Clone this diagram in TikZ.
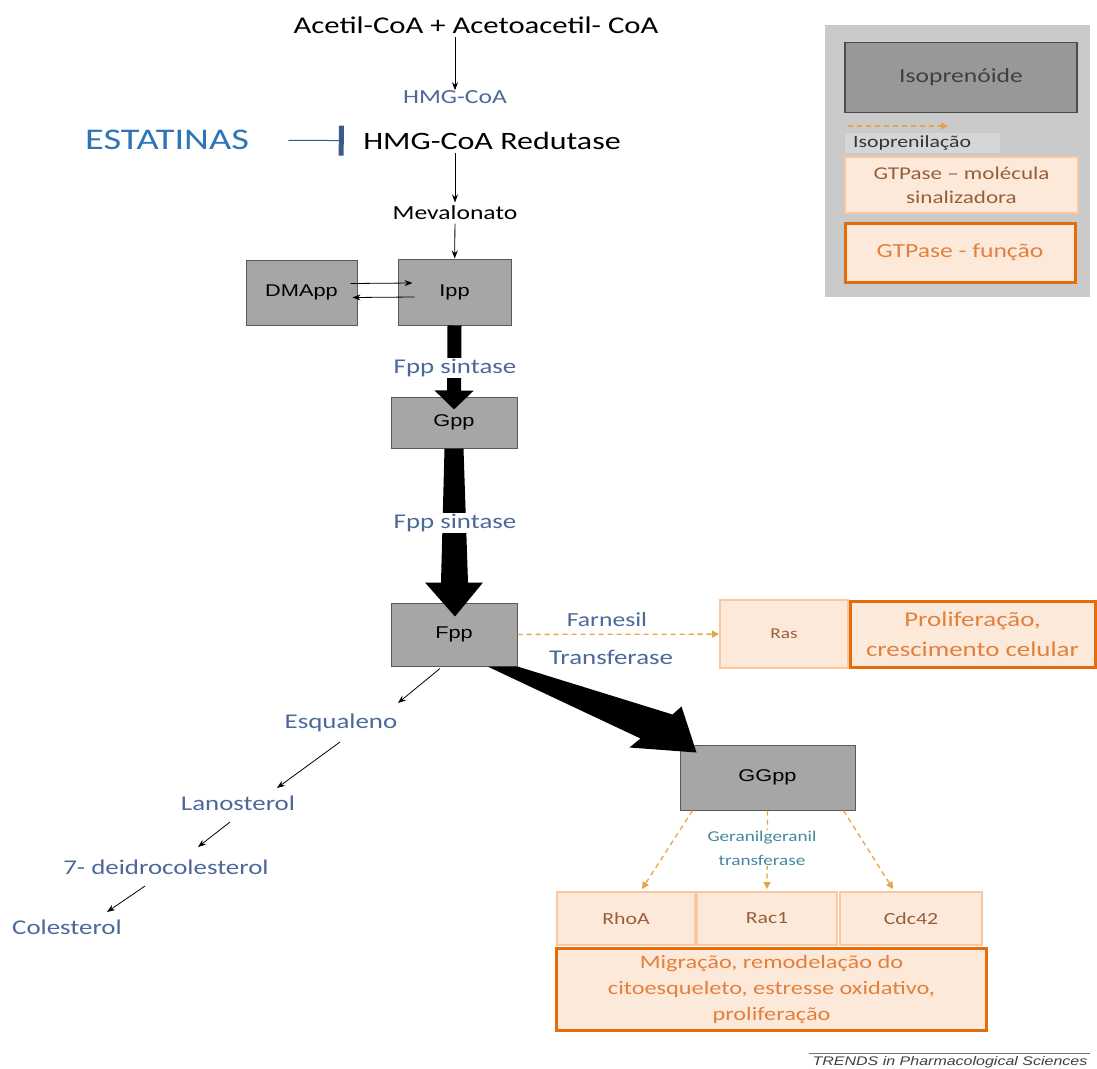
\documentclass[tikz,border=0pt]{standalone}
\usepackage{fontspec}
\setmainfont{Carlito}[FakeStretch=1.28]
\newfontfamily\arialfont{Liberation Sans}[FakeStretch=1.28]
\usetikzlibrary{arrows.meta,positioning}

\definecolor{isogray}{RGB}{166,166,166}
\definecolor{legendgray}{RGB}{202,202,202}
\definecolor{legendiso}{RGB}{152,152,152}
\definecolor{legendband}{RGB}{214,214,214}
\definecolor{pathblue}{RGB}{75,105,155}
\definecolor{statblue}{RGB}{46,117,182}
\definecolor{inhibblue}{RGB}{60,90,140}
\definecolor{gtplight}{RGB}{253,233,217}
\definecolor{gtpedge}{RGB}{250,200,160}
\definecolor{gtpdark}{RGB}{150,95,60}
\definecolor{gtporange}{RGB}{228,108,10}
\definecolor{functext}{RGB}{226,128,60}
\definecolor{dashorange}{RGB}{232,165,70}
\definecolor{ggteal}{RGB}{70,135,160}

\newcommand\txtsize[2]{\fontsize{#1}{#2}\selectfont}

\begin{document}
\begin{tikzpicture}[x=1pt, y=-1pt,
    isobox/.style={rectangle, draw=black!65, fill=isogray, line width=1pt, inner sep=0pt, font=\arialfont\txtsize{17}{20}},
    gtpbox/.style={rectangle, draw=gtpedge, fill=gtplight, line width=2pt, text=gtpdark, align=center, inner sep=0pt, font=\txtsize{17}{20}},
    funcbox/.style={gtpbox, draw=gtporange, line width=3pt, text=functext},
    metab/.style={inner sep=0pt, text=pathblue, font=\txtsize{21}{24}},
    enzyme/.style={fill=white, inner sep=1pt, text=pathblue, font=\txtsize{21}{24}},
    conv/.style={-{Stealth[length=8pt,width=6pt]}, line width=0.8pt},
    flux/.style={fill=black},
    prenyl/.style={draw=dashorange, line width=1.3pt, dash pattern=on 5pt off 4pt, -{Triangle[length=7pt,width=7pt]}}]

    \useasboundingbox[fill=white] (0,0) rectangle (1097,1068);

    \node[font=\txtsize{24}{28}] (acetil) at (476,25) {Acetil-CoA + Acetoacetil- CoA};
    \node[metab, font=\txtsize{20}{24}] (hmgcoa) at (455,97) {HMG-CoA};
    \node[font=\txtsize{25}{30}] (redutase) at (492,141) {HMG-CoA Redutase};
    \node[text=statblue, font=\txtsize{30}{36}] (estatinas) at (167,140) {ESTATINAS};
    \node[font=\txtsize{20}{24}] (mevalonato) at (455,213) {Mevalonato};

    \node[isobox, minimum width=111pt, minimum height=65pt] (dmapp) at (301.5,292.5) {DMApp};
    \node[isobox, minimum width=113pt, minimum height=66pt] (ipp) at (454.5,292) {Ipp};
    \node[isobox, minimum width=126pt, minimum height=51pt] (gpp) at (454,422.5) {Gpp};
    \node[isobox, minimum width=126pt, minimum height=63pt] (fpp) at (454,634.5) {Fpp};
    \node[isobox, minimum width=175pt, minimum height=65pt] (ggpp) at (767.5,777.5) {GGpp};

    \node[gtpbox, minimum width=128pt, minimum height=68pt, font=\txtsize{15}{18}] (ras) at (784,634) {Ras};
    \node[funcbox, minimum width=245pt, minimum height=66pt, font=\txtsize{21}{30}] (prolif) at (972.5,634) {Proliferação,\\crescimento celular};
    \node[metab, font=\txtsize{20}{24}] (farnesil) at (607,620) {Farnesil};
    \node[metab, font=\txtsize{21}{24}] (transf) at (611,657) {Transferase};

    \node[gtpbox, minimum width=138pt, minimum height=53pt] (rhoa) at (626,918.5) {RhoA};
    \node[gtpbox, minimum width=140pt, minimum height=53pt] (rac1) at (767,918.5) {Rac1};
    \node[gtpbox, minimum width=142pt, minimum height=53pt] (cdc42) at (911,918.5) {Cdc42};
    \node[funcbox, minimum width=430pt, minimum height=82pt, font=\txtsize{19}{26}] (migracao) at (771.5,989) {Migração, remodelação do\\citoesqueleto, estresse oxidativo,\\proliferação};

    \node[metab] (esq) at (341,723) {Esqualeno};
    \node[metab] (lano) at (238,803) {Lanosterol};
    \node[metab] (deidro) at (166,867) {7- deidrocolesterol};
    \node[metab] (coles) at (67,927) {Colesterol};

    \draw[conv] (acetil.south -| hmgcoa) -- (hmgcoa);
    \draw[conv] (redutase.south -| mevalonato) -- (mevalonato);
    \draw[conv] (mevalonato) -- (ipp);
    \draw[inhibblue, line width=1pt, shorten <=36pt, shorten >=16pt, -{Bar[width=30pt,line width=5pt]}] (estatinas) -- (redutase);
    \draw[conv] ([xshift=-7pt,yshift=9pt]dmapp.east) -- ([xshift=15pt,yshift=9pt]ipp.west);
    \draw[conv] ([xshift=17pt,yshift=-5pt]ipp.west) -- ([xshift=-5pt,yshift=-5pt]dmapp.east);

    \draw[black, line width=14pt, -{Triangle[length=19pt,width=38pt]}] (ipp.south) -- ([yshift=-13pt]gpp.north);
    \fill[flux] ([xshift=-9.5pt]gpp.south) -- ([shift={(-13,-20)}]fpp.north) -- ([shift={(-29,-20)}]fpp.north)
        -- ([shift={(1,14)}]fpp.north) -- ([shift={(29,-20)}]fpp.north) -- ([shift={(14,-20)}]fpp.north)
        -- ([xshift=9.5pt]gpp.south) -- cycle;
    \fill[flux] ([xshift=-30pt]fpp.south east) -- (fpp.south east) -- ([shift={(-7,-30)}]ggpp.north west)
        -- ([shift={(2,-38)}]ggpp.north west) -- ([shift={(17,8)}]ggpp.north west)
        -- ([shift={(-50,3)}]ggpp.north west) -- ([shift={(-39,-6)}]ggpp.north west) -- cycle;
    \node[enzyme] (sint1) at (455,368) {Fpp sintase};
    \node[enzyme] (sint2) at (455,523) {Fpp sintase};

    \draw[conv] ([shift={(-14,2)}]fpp.south) -- ([shift={(57,-20)}]esq.center);
    \draw[conv] ([shift={(-1,19)}]esq.center) -- ([shift={(39,-15)}]lano.center);
    \draw[conv] ([shift={(-8,19)}]lano.center) -- ([shift={(32,-20)}]deidro.center);
    \draw[conv] ([shift={(-21,19)}]deidro.center) -- ([shift={(40,-15)}]coles.center);

    \draw[prenyl] (fpp) -- (ras);
    \draw[prenyl] ([xshift=13pt]ggpp.south west) -- ([xshift=16pt,yshift=2pt]rhoa.north);
    \draw[prenyl] (ggpp.south) -- ([yshift=2pt]rac1.north);
    \draw[prenyl] ([xshift=-12pt]ggpp.south east) -- ([xshift=-18pt,yshift=2pt]cdc42.north);
    \node[fill=white, inner sep=1pt, text=ggteal, align=center, font=\txtsize{15}{24}] (ggtrans) at (762,848) {Geranilgeranil\\transferase};

    \node[fill=legendgray, minimum width=265pt, minimum height=272pt, inner sep=0pt] (legend) at (957.5,161) {};
    \node[rectangle, draw=black!70, fill=legendiso, line width=1.2pt, minimum width=232pt, minimum height=70pt, text=black!75, font=\txtsize{20}{24}] (isolegend) at (961,77.5) {Isoprenóide};
    \coordinate (lgstart) at (848,126);
    \coordinate (lgend) at (948,126);
    \draw[prenyl] (lgstart) -- (lgend);
    \node[anchor=west, fill=legendband, minimum height=20pt, inner xsep=8pt, inner ysep=0pt, text width=139pt, align=left, text=black!80, font=\txtsize{17}{20}] (isoprenil) at (845,143) {Isoprenilação};
    \node[gtpbox, minimum width=233pt, minimum height=56pt, font=\txtsize{18}{24}] (gtpmol) at (961.5,185) {GTPase -- molécula\\sinalizadora};
    \node[funcbox, minimum width=230pt, minimum height=59pt, font=\txtsize{20}{24}] (gtpfunc) at (960,252.5) {GTPase - função};

    \node[inner sep=0pt, text=black!75, font=\arialfont\itshape\txtsize{12.5}{15}] (trends) at (950,1062) {TRENDS in Pharmacological Sciences};
    \draw[black!55, line width=0.8pt] ([xshift=-3pt,yshift=3pt]trends.north west) -- ([xshift=2pt,yshift=3pt]trends.north east);
\end{tikzpicture}
\end{document}
